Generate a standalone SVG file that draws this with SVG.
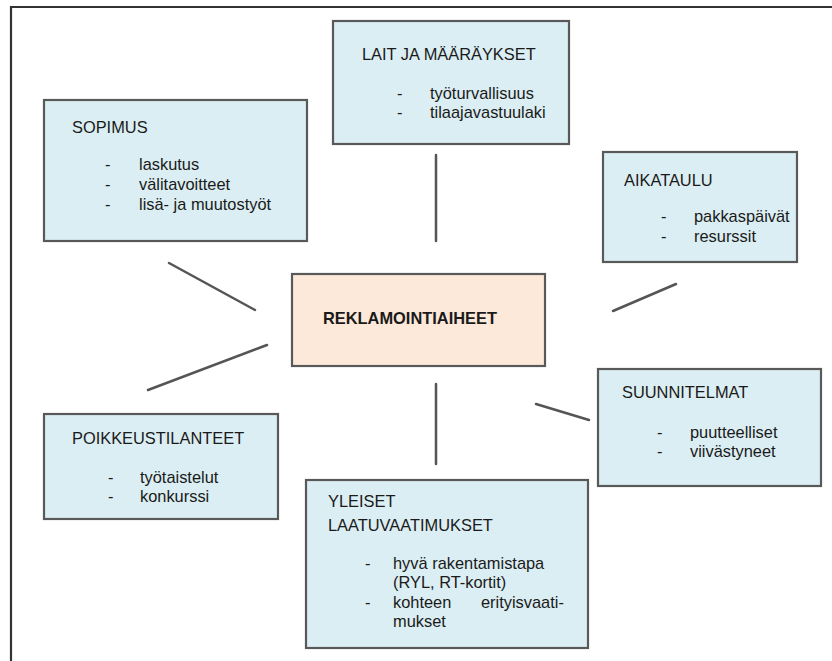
<svg xmlns="http://www.w3.org/2000/svg" width="832" height="661" viewBox="0 0 832 661">
<style>
.box{fill:#DBEEF3;stroke:#595959;stroke-width:2.2}
.center{fill:#FDE9D9;stroke:#595959;stroke-width:2.2}
text{font-family:"Liberation Sans",Arial,sans-serif;font-size:16.4px;fill:#1a1a1a}
.b{font-weight:bold}
.conn line{stroke:#555;stroke-width:2.5;stroke-linecap:round}
.frame{stroke:#333;stroke-width:2.2;fill:none}
</style>
<rect width="832" height="661" fill="#fff"/>
<path class="frame" d="M11,661 V7 H832"/>
<g class="conn" id="connectors">
<line x1="436" y1="155" x2="436" y2="241"/>
<line x1="169" y1="263" x2="255" y2="310"/>
<line x1="148" y1="390" x2="267" y2="345"/>
<line x1="613" y1="311" x2="676" y2="284"/>
<line x1="536" y1="404" x2="589" y2="420"/>
<line x1="436" y1="384" x2="436" y2="464"/>
</g>
<g id="lait">
<rect class="box" x="333" y="21" width="236" height="123"/>
<text x="362" y="60">LAIT JA MÄÄRÄYKSET</text>
<text x="397" y="99">-</text><text x="430" y="99">työturvallisuus</text>
<text x="397" y="118">-</text><text x="430" y="118">tilaajavastuulaki</text>
</g>
<g id="sopimus">
<rect class="box" x="44" y="100" width="263" height="141"/>
<text x="72" y="133">SOPIMUS</text>
<text x="105" y="170">-</text><text x="139" y="170">laskutus</text>
<text x="105" y="190">-</text><text x="139" y="190">välitavoitteet</text>
<text x="105" y="210">-</text><text x="139" y="210">lisä- ja muutostyöt</text>
</g>
<g id="aikataulu">
<rect class="box" x="603" y="152" width="194" height="110"/>
<text x="624" y="186">AIKATAULU</text>
<text x="661" y="222">-</text><text x="694" y="222">pakkaspäivät</text>
<text x="661" y="242">-</text><text x="694" y="242">resurssit</text>
</g>
<g id="reklamointiaiheet">
<rect class="center" x="292" y="274" width="253" height="92"/>
<text class="b" x="323" y="324">REKLAMOINTIAIHEET</text>
</g>
<g id="suunnitelmat">
<rect class="box" x="598" y="369" width="223" height="117"/>
<text x="622" y="398">SUUNNITELMAT</text>
<text x="657" y="438">-</text><text x="690" y="438">puutteelliset</text>
<text x="657" y="457">-</text><text x="690" y="457">viivästyneet</text>
</g>
<g id="poikkeustilanteet">
<rect class="box" x="44" y="414" width="234" height="105"/>
<text x="72" y="444">POIKKEUSTILANTEET</text>
<text x="108" y="483">-</text><text x="140" y="483">työtaistelut</text>
<text x="108" y="502">-</text><text x="140" y="502">konkurssi</text>
</g>
<g id="yleiset">
<rect class="box" x="306" y="480" width="282" height="168"/>
<text x="328" y="507">YLEISET</text>
<text x="328" y="531">LAATUVAATIMUKSET</text>
<text x="365" y="569">-</text><text x="393" y="569">hyvä rakentamistapa</text>
<text x="393" y="588">(RYL, RT-kortit)</text>
<text x="365" y="608">-</text><text x="393" y="608">kohteen</text><text x="481" y="608">erityisvaati-</text>
<text x="393" y="627">mukset</text>
</g>
</svg>
